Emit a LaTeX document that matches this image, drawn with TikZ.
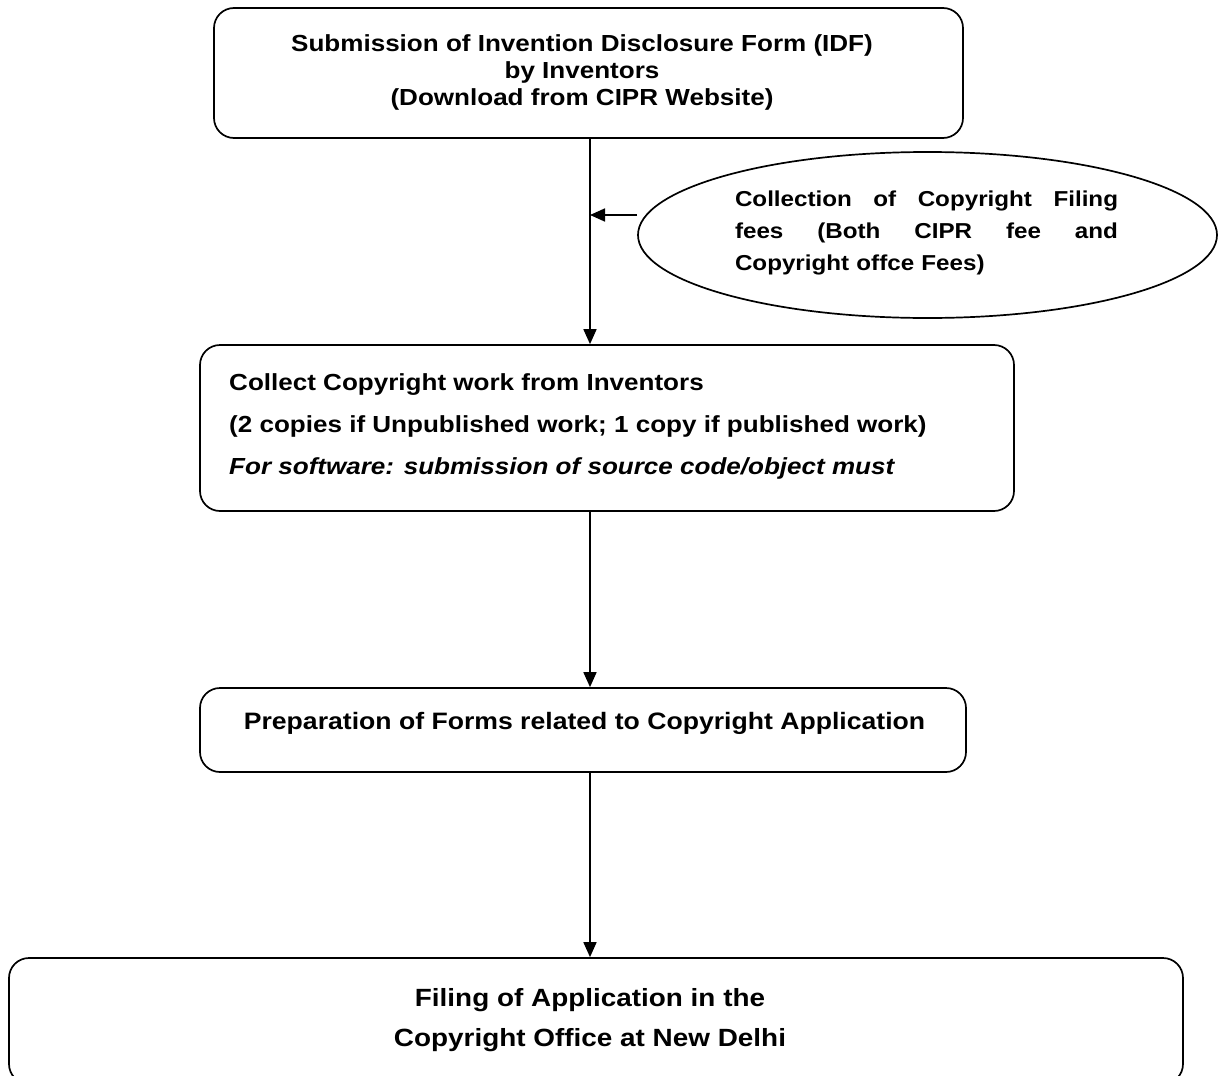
\documentclass[tikz,border=0pt]{standalone}
\usepackage{fontspec}
\setmainfont{Liberation Sans}[FakeStretch=1.12]
\usetikzlibrary{arrows.meta,shapes.geometric}
\begin{document}
\begin{tikzpicture}[x=1pt,y=-1pt,
  box/.style={draw, line width=1.7pt, rounded corners=20pt, inner sep=0pt},
  arr/.style={line width=1.7pt, -{Triangle[length=15pt,width=13pt]}},
  txt/.style={font=\fontsize{23.25}{27}\selectfont\bfseries}
]
\useasboundingbox (0,0) rectangle (1221,1076);
\coordinate (ax) at (590,0);
% Box 1
\node[box, minimum width=749pt, minimum height=130pt] (b1) at (588.5,73) {};
\node[txt, align=center] (b1t) at (582,72)
  {Submission of Invention Disclosure Form (IDF)\\by Inventors\\(Download from CIPR Website)};
% Ellipse
\node[draw, line width=1.7pt, ellipse, minimum width=579pt, minimum height=166pt, inner sep=0pt] (el) at (927.5,235) {};
\node[font=\fontsize{21.6}{32}\selectfont\bfseries, text width=383pt, align=left, inner sep=0pt] (elt) at (926.5,233)
  {\makebox[383pt][l]{Collection\hfill of\hfill Copyright\hfill Filing}\\\makebox[383pt][l]{fees\hfill (Both\hfill CIPR\hfill fee\hfill and}\\Copyright offce Fees)};
% Box 2
\node[box, minimum width=814pt, minimum height=166pt] (b2) at (607,428) {};
\node[font=\fontsize{23.25}{42}\selectfont\bfseries, align=left, anchor=west, inner sep=0pt] (b2t) at (229,426)
  {Collect Copyright work from Inventors\\(2 copies if Unpublished work; 1 copy if published work)\\\textit{For software: submission of source code/object must}};
% Box 3
\node[box, minimum width=766pt, minimum height=84pt] (b3) at (583,730) {};
\node[font=\fontsize{23.75}{27}\selectfont\bfseries] (b3t) at (584.5,723) {Preparation of Forms related to Copyright Application};
% Box 4
\node[box, minimum width=1174pt, minimum height=126pt] (b4) at (596,1021) {};
\node[font=\fontsize{24.9}{40}\selectfont\bfseries, align=center] (b4t) at (590,1020)
  {Filing of Application in the\\Copyright Office at New Delhi};
% Connectors
\coordinate (es) at (637,215);
\draw[arr] (b1.south -| ax) -- (b2.north -| ax);
\draw[arr] (es) -- (es -| ax);
\draw[arr] (b2.south -| ax) -- (b3.north -| ax);
\draw[arr] (b3.south -| ax) -- (b4.north -| ax);
\end{tikzpicture}
\end{document}
